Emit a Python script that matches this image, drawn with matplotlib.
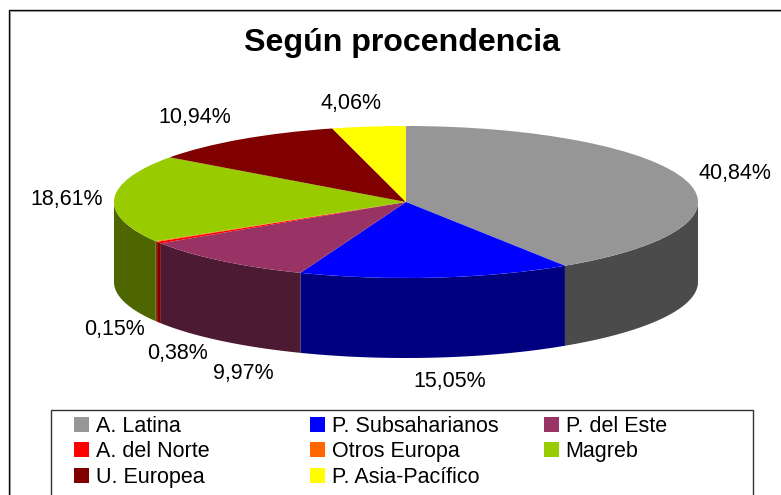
import numpy as np
import matplotlib
matplotlib.use('Agg')
import matplotlib.pyplot as plt
from matplotlib.patches import Patch, Rectangle

plt.rcParams['font.family'] = ['Liberation Sans', 'DejaVu Sans']

W, H = 781, 495

categories = ['A. Latina', 'P. Subsaharianos', 'P. del Este', 'A. del Norte',
              'Otros Europa', 'Magreb', 'U. Europea', 'P. Asia-Pacífico']
values = [40.84, 15.05, 9.97, 0.38, 0.15, 18.61, 10.94, 4.06]
value_labels = ['40,84%', '15,05%', '9,97%', '0,38%', '0,15%', '18,61%', '10,94%', '4,06%']
top_colors = ['#969696', '#0000FF', '#993366', '#FF0000',
              '#FF6600', '#99CC00', '#800000', '#FFFF00']
side_colors = ['#4B4B4B', '#000080', '#4D1A33', '#800000',
               '#803300', '#4D6600', '#400000', '#808000']

# where the ellipse sits, in pixels
cx, cy, rx, ry, depth = 406, 202, 292, 76, 80
label_pos = [(735, 173), (450, 382), (243, 373), (177, 353),
             (114, 330), (67, 200), (195, 117), (351, 104)]

fig = plt.figure(figsize=(W / 100, H / 100), dpi=100, facecolor='white')

# background axes in pixel coordinates for the frames
bg = fig.add_axes([0, 0, 1, 1])
bg.set_xlim(0, W)
bg.set_ylim(H, 0)
bg.axis('off')
bg.add_patch(Rectangle((8.5, 9.5), 800, 520, fc='white', ec='black', lw=1.0))
bg.add_patch(Rectangle((9.6, 10.6), 800, 520, fc='none', ec='#999999', lw=0.8))
bg.add_patch(Rectangle((50.5, 409.5), 702, 120, fc='white', ec='#333333', lw=1.0))

# pie axes: one data unit is rx wide and ry tall, so the circle becomes an ellipse
ax = fig.add_axes([0, 0, 1, 1])
ax.patch.set_alpha(0)
ax.pie(values, colors=top_colors, startangle=90, counterclock=False,
       radius=1, center=(0, 0), wedgeprops={'linewidth': 0})
ax.set_aspect('auto')
ax.set_xlim(-cx / rx, (W - cx) / rx)
ax.set_ylim((cy - H) / ry, cy / ry)
ax.axis('off')

# side wall, only on the front half of the disc
d = depth / ry
start = 0.0
total = sum(values)
for val, col in zip(values, side_colors):
    end = start + val / total * 360
    a0, a1 = max(start, 90), min(end, 270)
    if a1 > a0:
        t = np.radians(np.linspace(a0, a1, 80))
        xs = np.sin(t)
        ys = np.cos(t)
        ax.fill(np.r_[xs, xs[::-1]], np.r_[ys, ys[::-1] - d], color=col, lw=0, zorder=0.5)
    start = end

for txt, (x, y) in zip(value_labels, label_pos):
    fig.text(x / W, 1 - y / H, txt, fontsize=15.5, ha='center', va='center', color='black')

fig.text(402 / W, 1 - 43 / H, 'Según procendencia', fontsize=23.1, fontweight='bold',
         ha='center', va='center', color='black')

# one legend per column, the columns are evenly spaced in the original
columns = [[0, 3, 6], [1, 4, 7], [2, 5]]
column_x = [74, 310, 544]
for col, x in zip(columns, column_x):
    leg = fig.legend([Patch(facecolor=top_colors[i], edgecolor='none') for i in col],
                     [categories[i] for i in col],
                     loc='upper left', bbox_to_anchor=(x / W, 1 - 416 / H), frameon=False,
                     fontsize=15.5, handlelength=0.7, handleheight=0.7, handletextpad=0.3,
                     labelspacing=0.2, borderpad=0, borderaxespad=0)

fig.savefig('out.png', dpi=100)
